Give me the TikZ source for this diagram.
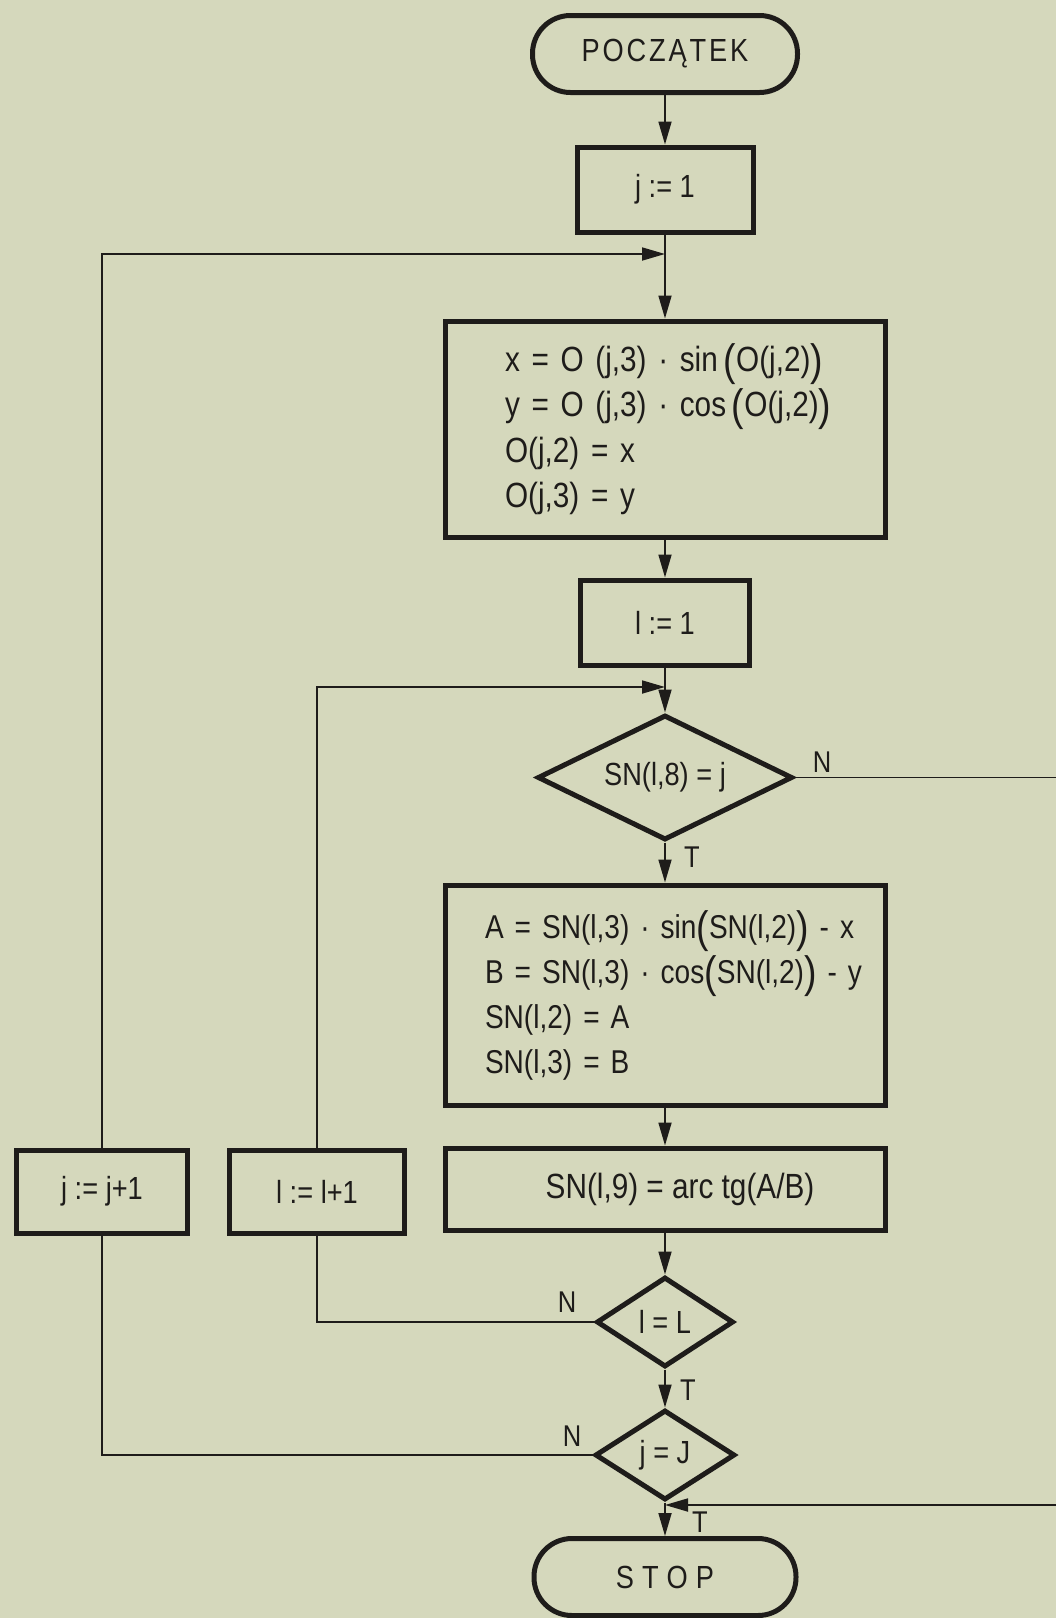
\documentclass[tikz,border=0pt]{standalone}
\usepackage{fontspec}
\setmainfont[FakeStretch=0.85]{Liberation Sans}
\usetikzlibrary{arrows.meta,shapes.geometric}
\definecolor{paper}{RGB}{213,216,188}
\definecolor{ink}{RGB}{30,28,26}
\newcommand\bxfont{\fontsize{35}{45.5}\selectfont}
\newcommand\bxsfont{\fontsize{33}{45}\selectfont}
\newcommand\mdfont{\fontsize{32}{36}\selectfont}
\newcommand\lbfont{\fontsize{30}{32}\selectfont}
\newcommand\bigpar[1]{\raisebox{-4pt}{\fontsize{44}{44}\selectfont #1}}
\begin{document}
\begin{tikzpicture}[x=1pt,y=-1pt,
  box/.style={draw=ink,line width=5pt,rectangle,inner sep=0pt,text=ink,font=\mdfont},
  term/.style={draw=ink,line width=5pt,rectangle,rounded corners=38pt,inner sep=0pt,text=ink,font=\mdfont},
  dec/.style={draw=ink,line width=5pt,diamond,inner sep=0pt,text=ink,font=\mdfont},
  conn/.style={draw=ink,line width=1.8pt},
  arr/.style={conn,-{Triangle[length=23pt,width=13pt]}},
  lab/.style={text=ink,font=\lbfont,inner sep=0pt}
]
\fill[paper] (0,0) rectangle (1056,1618);
\useasboundingbox (0,0) rectangle (1056,1618);

% nodes
\node[term, minimum width=265pt, minimum height=77pt] (start) at (665,54)
  {\addfontfeature{LetterSpace=9}POCZĄTEK};
\node[box, minimum width=176pt, minimum height=85pt] (j1) at (665,189.5) {j := 1};
\node[box, minimum width=440pt, minimum height=216pt, text width=320pt,
      inner xsep=60pt, align=left, font=\bxfont] (b1) at (665,429)
  {\mbox{x = O (j,3) · sin\,\bigpar{(}O(j,2)\bigpar{)}}\\
   \mbox{y = O (j,3) · cos\,\bigpar{(}O(j,2)\bigpar{)}}\\
   O(j,2) = x\\
   O(j,3) = y};
\node[box, minimum width=169pt, minimum height=85pt] (l1) at (665,622.5) {l := 1};
\node[dec, aspect=2, minimum width=255pt, minimum height=125pt] (d1) at (665,777.5) {SN(l,8) = j};
\node[box, minimum width=440pt, minimum height=220pt, text width=360pt,
      inner xsep=40pt, align=left, font=\bxsfont] (b2) at (665,995)
  {\mbox{A = SN(l,3) · sin\bigpar{(}SN(l,2)\bigpar{)} - x}\\
   \mbox{B = SN(l,3) · cos\bigpar{(}SN(l,2)\bigpar{)} - y}\\
   SN(l,2) = A\\
   SN(l,3) = B};
\node[box, minimum width=440pt, minimum height=82pt, font=\bxfont] (b3) at (665,1189)
  {\hspace*{30pt}SN(l,9) = arc tg(A/B)};
\node[box, minimum width=171pt, minimum height=83pt] (jj) at (102,1191.5) {j := j+1};
\node[box, minimum width=175pt, minimum height=83pt] (ll) at (317,1191.5) {l := l+1};
\node[dec, aspect=1.5, minimum width=137pt, minimum height=90pt] (d2) at (665,1322) {l = L};
\node[dec, aspect=1.5, minimum width=140pt, minimum height=90pt] (d3) at (665,1455) {j = J};
\node[term, minimum width=262pt, minimum height=77pt] (stop) at (665,1577)
  {S\kern8pt T\kern8pt O\kern8pt P};

% free ends
\coordinate (jmerge) at (665,254);
\coordinate (lmerge) at (665,687);
\coordinate (nright) at (1056,777.5);
\coordinate (tright) at (1056,1505);
\coordinate (tmerge) at (665,1505);

% main flow
\draw[arr] (start) -- (j1);
\draw[arr] (j1) -- (b1);
\draw[arr] (b1) -- (l1);
\draw[arr] (l1) -- (d1);
\draw[arr] (d1) -- (b2);
\draw[arr] (b2) -- (b3);
\draw[arr] (b3) -- (d2);
\draw[arr] (d2) -- (d3);
\draw[arr] (d3) -- (stop);

% loops
\draw[conn] (d3.west) -| (jj.south);
\draw[arr] (jj.north) |- (jmerge);
\draw[conn] (d2.west) -| (ll.south);
\draw[arr] (ll.north) |- (lmerge);
\draw[conn] (d1.east) -- (nright);
\draw[arr] (tright) -- (tmerge);

% labels
\node[lab] (ln1) at (822,762) {N};
\node[lab] (lt1) at (692,857) {T};
\node[lab] (ln2) at (567,1302) {N};
\node[lab] (lt2) at (688,1390) {T};
\node[lab] (ln3) at (572,1436) {N};
\node[lab] (lt3) at (700,1522) {T};
\end{tikzpicture}
\end{document}
